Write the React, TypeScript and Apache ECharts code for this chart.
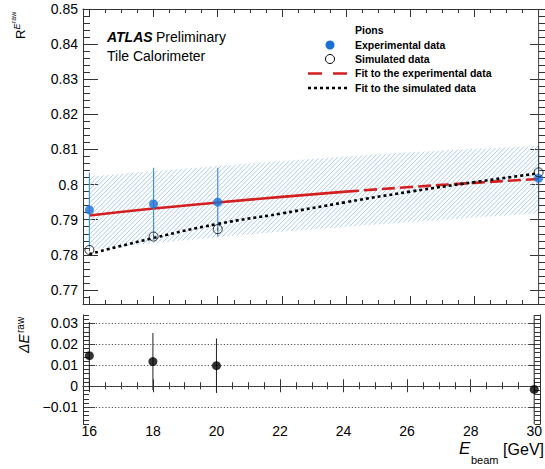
import React, { useEffect, useRef } from "react";
import * as echarts from "echarts";

// ---- data ----
const energies = [16, 18, 20, 30];
const expValues = [0.7928, 0.7945, 0.795, 0.8018];
const expErrors = [0.0106, 0.0103, 0.0098, 0.0092];
const simValues = [0.7814, 0.7852, 0.7873, 0.8035];
const simErrors = [0.0004, 0.0004, 0.0004, 0.06];

const fitX = [16, 18, 20, 22, 24, 26, 28, 30];
const fitExp = [0.7912, 0.7932, 0.7949, 0.7965, 0.798, 0.7993, 0.8005, 0.8016];
const fitSim = [0.7802, 0.7848, 0.7888, 0.7918, 0.795, 0.798, 0.8007, 0.8032];
const bandHigh = [0.8023, 0.8038, 0.8053, 0.8067, 0.808, 0.8092, 0.8102, 0.811];
const bandLow = [0.7815, 0.7833, 0.785, 0.7866, 0.788, 0.7893, 0.7906, 0.7918];

const deltaValues = [0.0146, 0.0118, 0.0098, -0.0015];
const deltaErrors = [0.016, 0.0136, 0.013, 0.05];

const xTicks = [16, 18, 20, 22, 24, 26, 28, 30];
const topYTicks = [0.77, 0.78, 0.79, 0.8, 0.81, 0.82, 0.83, 0.84, 0.85];
const bottomYTicks = [-0.01, 0, 0.01, 0.02, 0.03];

const X_MIN = 15.8;
const X_MAX = 30.2;
const TOP_MIN = 0.766;
const TOP_MAX = 0.85;
const BOT_MIN = -0.018;
const BOT_MAX = 0.034;

const FONT = '"Liberation Sans", Arial, Helvetica, sans-serif';

function minorTicks(min: number, max: number, step: number, majors: number[], dec: number) {
  const out: number[] = [];
  const start = Math.ceil(min / step - 1e-9);
  const end = Math.floor(max / step + 1e-9);
  for (let k = start; k <= end; k++) {
    const v = +(k * step).toFixed(dec);
    if (!majors.some((m) => Math.abs(m - v) < 1e-9)) out.push(v);
  }
  return out;
}

const xMinor = minorTicks(X_MIN, X_MAX, 0.5, xTicks, 2);
const topYMinor = minorTicks(TOP_MIN, TOP_MAX, 0.002, topYTicks, 4);
const botYMinor = minorTicks(BOT_MIN, BOT_MAX, 0.002, bottomYTicks, 4);

const FRAME = { show: true, lineStyle: { color: "#333", width: 1 } };

function xAx(grid: number, pos: string, ticks: number[], len: number, labels: boolean, line: boolean) {
  return {
    type: "value",
    gridIndex: grid,
    position: pos,
    min: X_MIN,
    max: X_MAX,
    axisLine: line ? FRAME : { show: false },
    axisTick: { show: true, inside: true, length: len, customValues: ticks, lineStyle: { color: "#333", width: 1 } },
    axisLabel: labels
      ? { show: true, customValues: xTicks, margin: 0, fontSize: 14, fontFamily: FONT, color: "#000" }
      : { show: false },
    splitLine: { show: false },
  };
}

function yAx(grid: number, pos: string, min: number, max: number, ticks: number[], len: number, labels: number[] | null, line: boolean) {
  return {
    type: "value",
    gridIndex: grid,
    position: pos,
    min,
    max,
    axisLine: line ? FRAME : { show: false },
    axisTick: { show: true, inside: true, length: len, customValues: ticks, lineStyle: { color: "#333", width: 1 } },
    axisLabel: labels
      ? {
          show: true,
          customValues: labels,
          margin: 5,
          fontSize: 14,
          fontFamily: FONT,
          color: "#000",
          formatter: (v: number) => (v < 0 ? "\u2212" + String(Math.abs(v)) : String(v)),
        }
      : { show: false },
    splitLine: { show: false },
  };
}

const STEP = 4.5;

function hatchRender(params: any, api: any) {
  const up = fitX.map((x, i) => api.coord([x, bandHigh[i]]));
  const lo = fitX.map((x, i) => api.coord([x, bandLow[i]])).reverse();
  const poly = up.concat(lo);
  const sums = poly.map((p: number[]) => p[0] + p[1]);
  const cMin = Math.min(...sums);
  const cMax = Math.max(...sums);
  const children: any[] = [];
  for (let c = Math.ceil(cMin / STEP) * STEP; c <= cMax; c += STEP) {
    const xs: number[] = [];
    for (let i = 0; i < poly.length; i++) {
      const p1 = poly[i];
      const p2 = poly[(i + 1) % poly.length];
      const f1 = p1[0] + p1[1] - c;
      const f2 = p2[0] + p2[1] - c;
      if (f1 < 0 !== f2 < 0) {
        const t = f1 / (f1 - f2);
        xs.push(p1[0] + t * (p2[0] - p1[0]));
      }
    }
    xs.sort((a, b) => a - b);
    for (let k = 0; k + 1 < xs.length; k += 2) {
      children.push({
        type: "line",
        shape: { x1: xs[k], y1: c - xs[k], x2: xs[k + 1], y2: c - xs[k + 1] },
        style: { stroke: "#aecdec", lineWidth: 1 },
      });
    }
  }
  return { type: "group", children };
}

function errRender(color: string, width: number) {
  return (params: any, api: any) => {
    const x = api.value(0);
    const y = api.value(1);
    const e = api.value(2);
    const p1 = api.coord([x, y - e]);
    const p2 = api.coord([x, y + e]);
    return {
      type: "line",
      shape: { x1: p1[0], y1: p1[1], x2: p2[0], y2: p2[1] },
      style: { stroke: color, lineWidth: width },
    };
  };
}

function txt(x: number, y: number, text: string, font: string, extra: any = {}) {
  return {
    type: "text",
    x,
    y,
    style: {
      text,
      font,
      fill: "#000",
      textAlign: "left",
      textVerticalAlign: "middle",
      verticalAlign: "middle",
      ...extra,
    },
  };
}

const BOT = { textVerticalAlign: "bottom", verticalAlign: "bottom" };

export default function App() {
  const ref = useRef<HTMLDivElement>(null);
  useEffect(() => {
    if (!ref.current) return;
    const chart = echarts.init(ref.current, null, { renderer: "svg" });
    const legendFont = `bold 10.5px ${FONT}`;
    const option: any = {
      animation: false,
      backgroundColor: "#fff",
      grid: [
        { left: 83, top: 9, width: 462, height: 295 },
        { left: 83, top: 315, width: 462, height: 109 },
      ],
      xAxis: [
        xAx(0, "bottom", xTicks, 8, false, true),
        xAx(0, "bottom", xMinor, 4, false, false),
        xAx(0, "top", xTicks, 8, false, true),
        xAx(0, "top", xMinor, 4, false, false),
        xAx(1, "bottom", xTicks, 7, true, true),
        xAx(1, "bottom", xMinor, 4, false, false),
        xAx(1, "top", xTicks, 6, false, true),
        xAx(1, "top", xMinor, 3, false, false),
      ],
      yAxis: [
        yAx(0, "left", TOP_MIN, TOP_MAX, topYTicks, 15, topYTicks, true),
        yAx(0, "left", TOP_MIN, TOP_MAX, topYMinor, 7, null, false),
        yAx(0, "right", TOP_MIN, TOP_MAX, topYTicks, 15, null, true),
        yAx(0, "right", TOP_MIN, TOP_MAX, topYMinor, 7, null, false),
        yAx(1, "left", BOT_MIN, BOT_MAX, bottomYTicks, 12, bottomYTicks, true),
        yAx(1, "left", BOT_MIN, BOT_MAX, botYMinor, 6, null, false),
        yAx(1, "right", BOT_MIN, BOT_MAX, bottomYTicks, 12, null, true),
        yAx(1, "right", BOT_MIN, BOT_MAX, botYMinor, 6, null, false),
      ],
      series: [
        {
          type: "custom",
          name: "band",
          xAxisIndex: 0,
          yAxisIndex: 0,
          data: [[fitX[0], bandLow[0]]],
          renderItem: hatchRender,
          clip: true,
          silent: true,
          z: 1,
        },
        {
          type: "line",
          name: "Fit to the experimental data",
          xAxisIndex: 0,
          yAxisIndex: 0,
          data: fitX.slice(0, 5).map((x, i) => [x, fitExp[i]]),
          smooth: true,
          showSymbol: false,
          lineStyle: { color: "#d41f1f", width: 2.6 },
          z: 3,
        },
        {
          type: "line",
          name: "Fit to the experimental data (dashed)",
          xAxisIndex: 0,
          yAxisIndex: 0,
          data: fitX.slice(4).map((x, i) => [x, fitExp[i + 4]]),
          smooth: true,
          showSymbol: false,
          lineStyle: { color: "#d41f1f", width: 2.6, type: [13, 5] },
          z: 3,
        },
        {
          type: "line",
          name: "Fit to the simulated data",
          xAxisIndex: 0,
          yAxisIndex: 0,
          data: fitX.map((x, i) => [x, fitSim[i]]),
          smooth: true,
          showSymbol: false,
          lineStyle: { color: "#000", width: 2.6, type: [3, 3] },
          z: 3,
        },
        {
          type: "custom",
          name: "exp errors",
          xAxisIndex: 0,
          yAxisIndex: 0,
          data: energies.map((x, i) => [x, expValues[i], expErrors[i]]),
          renderItem: errRender("#4a90e2", 1.2),
          clip: true,
          z: 4,
        },
        {
          type: "custom",
          name: "sim errors",
          xAxisIndex: 0,
          yAxisIndex: 0,
          data: energies.map((x, i) => [x, simValues[i], simErrors[i]]),
          renderItem: errRender("#444", 1),
          clip: true,
          z: 4,
        },
        {
          type: "scatter",
          name: "Experimental data",
          xAxisIndex: 0,
          yAxisIndex: 0,
          data: energies.map((x, i) => [x, expValues[i]]),
          symbol: "circle",
          symbolSize: 9,
          itemStyle: { color: "#1a6fd6" },
          z: 5,
        },
        {
          type: "scatter",
          name: "Simulated data",
          xAxisIndex: 0,
          yAxisIndex: 0,
          data: energies.map((x, i) => [x, simValues[i]]),
          symbol: "circle",
          symbolSize: 9,
          itemStyle: { color: "rgba(0,0,0,0)", borderColor: "#000", borderWidth: 1 },
          z: 5,
        },
        {
          type: "custom",
          name: "delta errors",
          xAxisIndex: 4,
          yAxisIndex: 4,
          data: energies.map((x, i) => [x, deltaValues[i], deltaErrors[i]]),
          renderItem: errRender("#222", 1),
          clip: true,
          z: 4,
        },
        {
          type: "scatter",
          name: "Delta E raw",
          xAxisIndex: 4,
          yAxisIndex: 4,
          data: energies.map((x, i) => [x, deltaValues[i]]),
          symbol: "circle",
          symbolSize: 9,
          itemStyle: { color: "#000" },
          z: 5,
          markLine: {
            silent: true,
            symbol: "none",
            label: { show: false },
            lineStyle: { color: "#555", width: 1, type: [1.2, 2] },
            data: bottomYTicks.map((v) => ({ yAxis: v })),
            z: 1,
          },
        },
      ],
      graphic: [
        // ATLAS label
        txt(107, 37, "ATLAS", `italic bold 14px ${FONT}`),
        txt(156, 37, "Preliminary", `14px ${FONT}`),
        txt(107, 56, "Tile Calorimeter", `14px ${FONT}`),
        // legend
        txt(355, 30, "Pions", legendFont),
        { type: "circle", shape: { cx: 330, cy: 45, r: 4.5 }, style: { fill: "#1a6fd6" } },
        txt(355, 45, "Experimental data", legendFont),
        { type: "circle", shape: { cx: 330, cy: 59, r: 4.5 }, style: { fill: "none", stroke: "#000", lineWidth: 1 } },
        txt(355, 59, "Simulated data", legendFont),
        {
          type: "line",
          shape: { x1: 308, y1: 73.5, x2: 348, y2: 73.5 },
          style: { stroke: "#d41f1f", lineWidth: 2.6, lineDash: [14, 11] },
        },
        txt(355, 73, "Fit to the experimental data", legendFont),
        {
          type: "line",
          shape: { x1: 308, y1: 88, x2: 348, y2: 88 },
          style: { stroke: "#000", lineWidth: 2.6, lineDash: [3, 3] },
        },
        txt(355, 88, "Fit to the simulated data", legendFont),
        // y title top (rotated; local x runs up the page, local -y runs left)
        {
          type: "group",
          x: 27,
          y: 39,
          rotation: Math.PI / 2,
          children: [
            txt(0, 0, "R", `13px ${FONT}`, BOT),
            txt(9.5, -6, "E", `italic 9px ${FONT}`, BOT),
            txt(16, -10, "raw", `7px ${FONT}`, BOT),
          ],
        },
        // y title bottom
        {
          type: "group",
          x: 31,
          y: 353,
          rotation: Math.PI / 2,
          children: [
            txt(0, 0, "\u0394E", `italic 14px ${FONT}`, BOT),
            txt(20, -6, "raw", `10px ${FONT}`, BOT),
          ],
        },
        // x title
        txt(459, 457, "E", `italic 17px ${FONT}`, BOT),
        txt(471, 465, "beam", `11px ${FONT}`, BOT),
        txt(544, 457, "[GeV]", `16px ${FONT}`, { ...BOT, textAlign: "right" }),
      ],
    };
    chart.setOption(option);
    return () => chart.dispose();
  }, []);
  return (
    <div
      ref={ref}
      style={{ position: "fixed", left: 0, top: 0, width: 545, height: 469, background: "#fff" }}
    />
  );
}
